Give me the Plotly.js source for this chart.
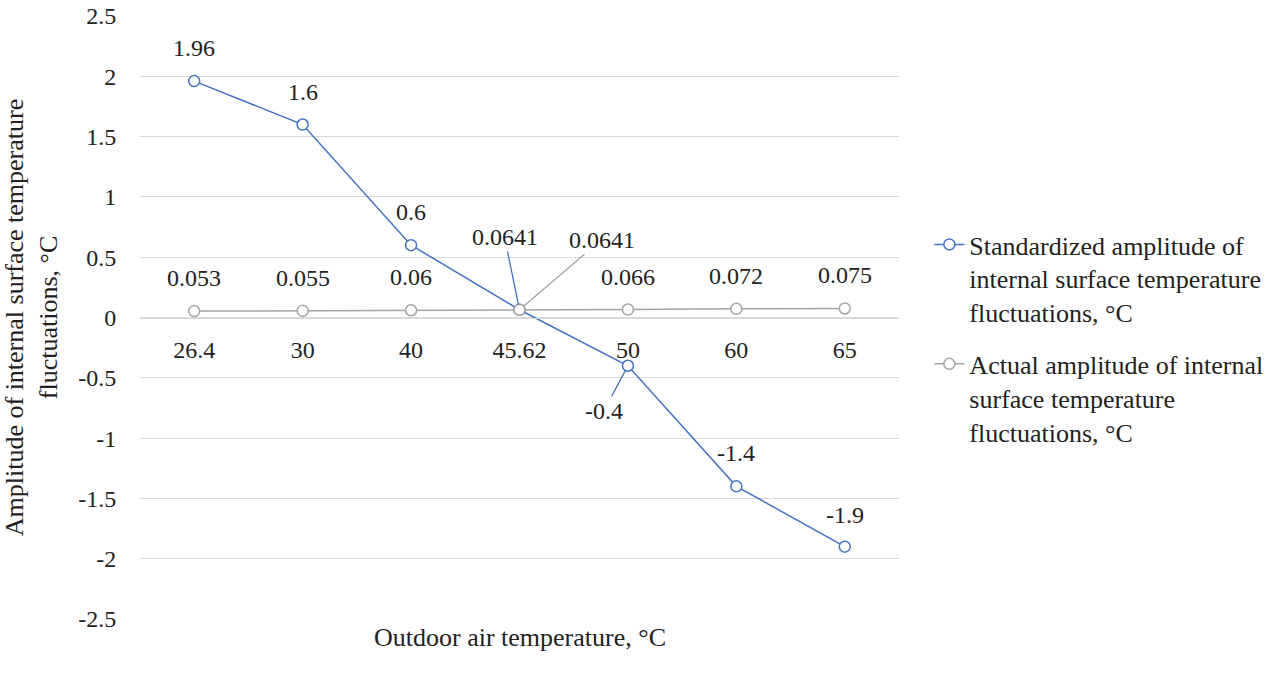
<!DOCTYPE html>
<html>
<head>
<meta charset="utf-8">
<script src="https://cdn.plot.ly/plotly-3.0.1.min.js"></script>
<style>body{margin:0;background:#fff}</style>
</head>
<body>
<div id="chart" style="width:1285px;height:673px"></div>
<script>
var categories = ["26.4", "30", "40", "45.62", "50", "60", "65"];
var standardized = [1.96, 1.6, 0.6, 0.0641, -0.4, -1.4, -1.9];
var actual = [0.053, 0.055, 0.06, 0.0641, 0.066, 0.072, 0.075];
var yTicks = [-2.5, -2, -1.5, -1, -0.5, 0, 0.5, 1, 1.5, 2, 2.5];

var BLUE = "#4472C4", GRAY = "#A5A5A5";
var FONT = "Liberation Serif";
var FS = 26;   // words
var NS = 24;   // numbers

// data label offsets in px, up is positive (null = drawn with a leader line)
var stdShift = [33, 33, 33, null, null, 33, 32];
var actShift = [33, 33, 33, null, 33, 33, 33];

var trace1 = {
    x: categories,
    y: standardized,
    name: "Standardized amplitude of<br>internal surface temperature<br>fluctuations, °C",
    type: "scatter",
    mode: "lines+markers",
    line: {color: BLUE, width: 1.5},
    marker: {symbol: "circle", size: 11, color: "#fff", line: {color: BLUE, width: 1.5}},
    legendgroup: "a"
};

var trace2 = {
    x: categories,
    y: actual,
    name: "Actual amplitude of internal<br>surface temperature<br>fluctuations, °C",
    type: "scatter",
    mode: "lines+markers",
    line: {color: GRAY, width: 1.5},
    marker: {symbol: "circle", size: 11, color: "#fff", line: {color: GRAY, width: 1.5}},
    legendgroup: "b"
};

var annotations = [];
function addLabels(vals, shifts) {
    vals.forEach(function (v, i) {
        if (shifts[i] === null) return;
        annotations.push({
            x: i, y: v, xref: "x", yref: "y",
            text: String(v), showarrow: false, yshift: shifts[i],
            font: {family: FONT, size: NS, color: "#222"}
        });
    });
}
addLabels(standardized, stdShift);
addLabels(actual, actShift);

// labels that Excel moved off their points, with leader lines
function addLeader(i, v, color, ax, ay) {
    annotations.push({
        x: i, y: v, xref: "x", yref: "y",
        text: String(v), showarrow: true, arrowhead: 0,
        arrowcolor: color, arrowwidth: 1.3, ax: ax, ay: ay, standoff: 5,
        font: {family: FONT, size: NS, color: "#222"}
    });
}
addLeader(3, standardized[3], BLUE, -15, -73);
addLeader(3, actual[3], GRAY, 82, -70);
addLeader(4, standardized[4], BLUE, -24, 45);

// x axis title sits under the plot while the axis itself crosses at zero
annotations.push({
    x: 0.5, y: -0.03, xref: "paper", yref: "paper",
    text: "Outdoor air temperature, °C", showarrow: false,
    yanchor: "middle", font: {family: FONT, size: FS, color: "#222"}
});

var layout = {
    width: 1285,
    height: 673,
    margin: {l: 140, r: 386, t: 16, b: 54},
    paper_bgcolor: "#fff",
    plot_bgcolor: "#fff",
    font: {family: FONT, size: FS, color: "#222"},
    showlegend: true,
    legend: {
        x: 1.04, y: 0.66, xanchor: "left", yanchor: "top",
        valign: "top", tracegroupgap: 15,
        font: {family: FONT, size: FS, color: "#222"}
    },
    xaxis: {
        type: "category",
        range: [-0.5, 6.5],
        anchor: "free",
        position: 0.5,
        showgrid: false,
        showline: true,
        linecolor: "#D9D9D9",
        linewidth: 1,
        ticks: "outside",
        ticklen: 11,
        tickangle: 0,
        tickcolor: "rgba(0,0,0,0)",
        tickfont: {family: FONT, size: NS, color: "#222"},
        fixedrange: true
    },
    yaxis: {
        range: [-2.5, 2.5],
        tickvals: yTicks,
        ticktext: yTicks.map(String),
        showgrid: true,
        gridcolor: "#D9D9D9",
        gridwidth: 1,
        zeroline: false,
        showline: false,
        ticks: "outside",
        ticklen: 18,
        tickcolor: "rgba(0,0,0,0)",
        tickfont: {family: FONT, size: NS, color: "#222"},
        title: {
            text: "Amplitude of internal surface temperature<br>fluctuations, °C",
            font: {family: FONT, size: FS, color: "#222"},
            standoff: 22
        }
    },
    annotations: annotations
};

Plotly.newPlot("chart", [trace1, trace2], layout, {displayModeBar: false, staticPlot: true});
</script>
</body>
</html>
